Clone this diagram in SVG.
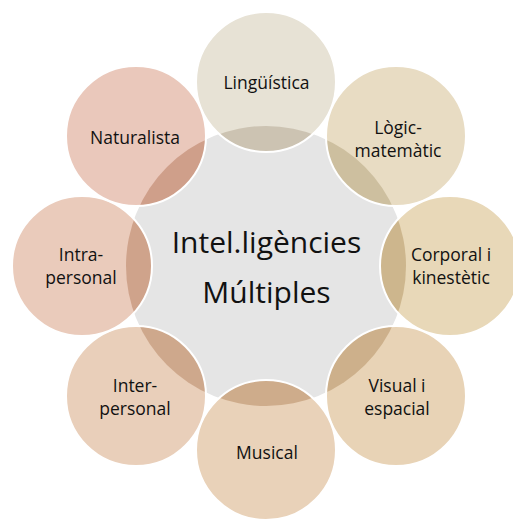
<svg xmlns="http://www.w3.org/2000/svg" width="513" height="520" viewBox="0 0 513 520">
<defs>
<clipPath id="cc"><circle cx="266" cy="266" r="140"/></clipPath>
</defs>
<style>
.edge{fill:none;stroke:#FFFFFF;stroke-width:2}
.t{font-family:"Open Sans","Noto Sans","Liberation Sans",sans-serif;font-size:17.5px;fill:#111111;text-anchor:middle}
.big{font-family:"Open Sans","Noto Sans","Liberation Sans",sans-serif;font-size:30px;fill:#111111;text-anchor:middle}
</style>
<rect width="513" height="520" fill="#FFFFFF"/>
<g id="center">
<circle cx="266" cy="266" r="141" fill="#E5E5E5" stroke="#FFFFFF" stroke-width="2"/>
<text class="big" x="266.5" y="252.5">Intel.ligències</text>
<text class="big" x="266.5" y="302.5">Múltiples</text>
</g>
<g id="linguistica">
<circle cx="266" cy="82" r="70" fill="#E7E2D5"/>
<circle cx="266" cy="82" r="70" fill="#CCC3B2" clip-path="url(#cc)"/>
<circle class="edge" cx="266" cy="82" r="70"/>
<text class="t" x="266.5" y="89">Lingüística</text>
</g>
<g id="logic">
<circle cx="396" cy="136" r="70" fill="#E8DCC3"/>
<circle cx="396" cy="136" r="70" fill="#CDBF9F" clip-path="url(#cc)"/>
<circle class="edge" cx="396" cy="136" r="70"/>
<text class="t" x="398" y="134">Lògic-</text>
<text class="t" x="398" y="157">matemàtic</text>
</g>
<g id="corporal">
<circle cx="450" cy="266" r="70" fill="#E8D8B8"/>
<circle cx="450" cy="266" r="70" fill="#CDB68D" clip-path="url(#cc)"/>
<circle class="edge" cx="450" cy="266" r="70"/>
<text class="t" x="451" y="261">Corporal i</text>
<text class="t" x="451" y="284">kinestètic</text>
</g>
<g id="visual">
<circle cx="396" cy="396" r="70" fill="#E8D3B6"/>
<circle cx="396" cy="396" r="70" fill="#CDB08B" clip-path="url(#cc)"/>
<circle class="edge" cx="396" cy="396" r="70"/>
<text class="t" x="397" y="392">Visual i</text>
<text class="t" x="397" y="415">espacial</text>
</g>
<g id="musical">
<circle cx="266" cy="450" r="70" fill="#E9D2B9"/>
<circle cx="266" cy="450" r="70" fill="#CEAC8B" clip-path="url(#cc)"/>
<circle class="edge" cx="266" cy="450" r="70"/>
<text class="t" x="267" y="459">Musical</text>
</g>
<g id="inter">
<circle cx="136" cy="396" r="70" fill="#E9CFBA"/>
<circle cx="136" cy="396" r="70" fill="#CEA88C" clip-path="url(#cc)"/>
<circle class="edge" cx="136" cy="396" r="70"/>
<text class="t" x="135" y="392">Inter-</text>
<text class="t" x="135" y="415">personal</text>
</g>
<g id="intra">
<circle cx="82" cy="266" r="70" fill="#EACBBB"/>
<circle cx="82" cy="266" r="70" fill="#CFA38B" clip-path="url(#cc)"/>
<circle class="edge" cx="82" cy="266" r="70"/>
<text class="t" x="81" y="261">Intra-</text>
<text class="t" x="81" y="284">personal</text>
</g>
<g id="naturalista">
<circle cx="136" cy="136" r="70" fill="#EAC8BB"/>
<circle cx="136" cy="136" r="70" fill="#CF9F8A" clip-path="url(#cc)"/>
<circle class="edge" cx="136" cy="136" r="70"/>
<text class="t" x="135" y="144">Naturalista</text>
</g>
</svg>
